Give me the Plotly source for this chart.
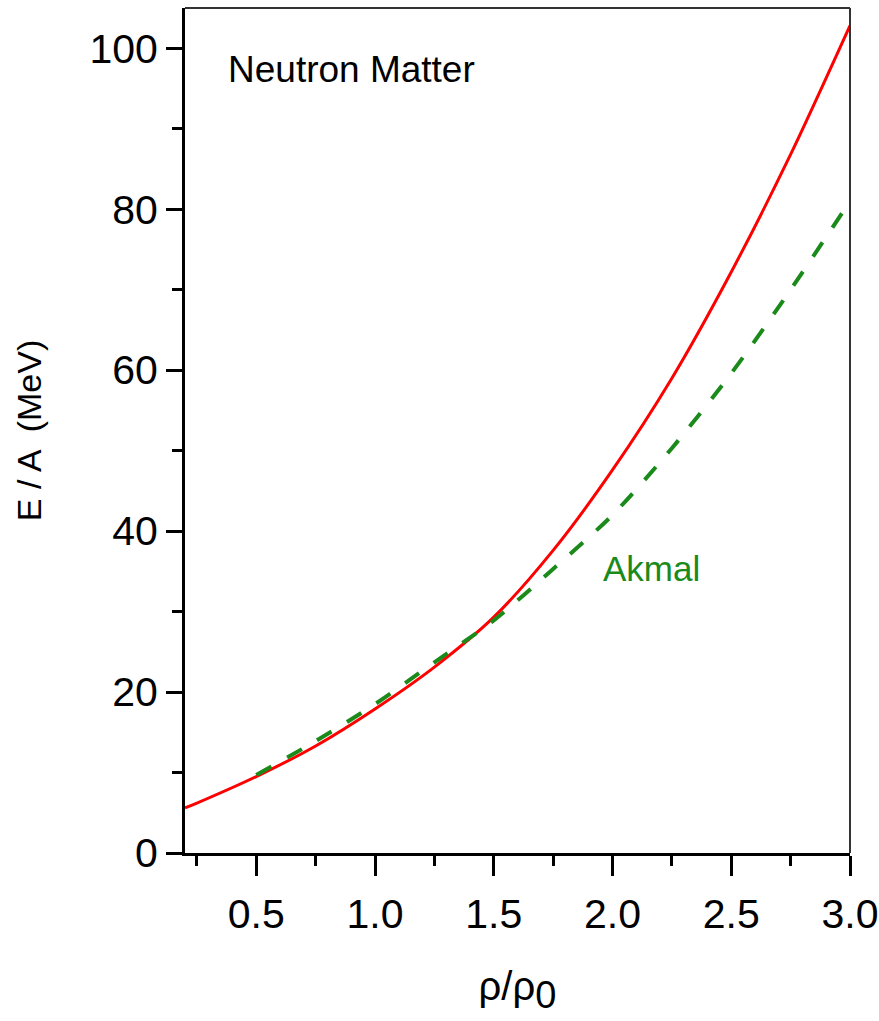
import plotly.graph_objects as go

# Data
rho_red = [0.2, 0.25, 0.5, 0.75, 1.0, 1.25, 1.5, 1.75, 2.0, 2.25, 2.5, 2.75, 3.0]
ea_red = [5.6, 6.2, 9.5, 13.3, 17.9, 23.1, 29.3, 37.6, 47.6, 59.0, 72.2, 86.8, 102.8]

rho_akmal = [0.5, 0.75, 1.0, 1.25, 1.5, 1.75, 2.0, 2.25, 2.5, 2.75, 3.0]
ea_akmal = [9.7, 13.9, 18.5, 23.7, 28.9, 35.3, 42.0, 50.3, 59.6, 70.0, 81.0]

x_ticks = [0.5, 1.0, 1.5, 2.0, 2.5, 3.0]
x_tick_labels = ["0.5", "1.0", "1.5", "2.0", "2.5", "3.0"]
x_minor_ticks = [0.25, 0.75, 1.25, 1.75, 2.25, 2.75]
y_ticks = [0, 20, 40, 60, 80, 100]
y_tick_labels = ["0", "20", "40", "60", "80", "100"]
y_minor_ticks = [10, 30, 50, 70, 90]

sans = "Liberation Sans, Arial, sans-serif"

fig = go.Figure()
fig.add_trace(go.Scatter(x=rho_red, y=ea_red, mode="lines",
                         line=dict(color="#ff0000", width=3, shape="spline", smoothing=0.8),
                         showlegend=False))
fig.add_trace(go.Scatter(x=rho_akmal, y=ea_akmal, mode="lines",
                         line=dict(color="#1a8a1a", width=4, dash="17px,18px",
                                   shape="spline", smoothing=0.8),
                         showlegend=False))

fig.update_layout(
    width=879, height=1021,
    margin=dict(l=185, r=29, t=8, b=168, autoexpand=False),
    paper_bgcolor="white", plot_bgcolor="white",
    xaxis=dict(range=[0.2, 3.0], tickvals=x_ticks, ticktext=x_tick_labels,
               automargin=False,
               showgrid=False, zeroline=False, showline=True, linecolor="black", linewidth=3,
               ticks="outside", ticklen=20, tickwidth=3, tickcolor="black",
               ticklabeloverflow="allow", ticklabelstandoff=3,
               tickfont=dict(family=sans, size=41, color="black"),
               minor=dict(tickvals=x_minor_ticks, ticks="outside",
                          ticklen=10, tickwidth=3, tickcolor="black", showgrid=False),
               title=dict(text="ρ/ρ<sub><span style='font-size:38px'>0</span></sub>",
                          font=dict(family=sans, size=40, color="black"),
                          standoff=36)),
    yaxis=dict(range=[0, 105], tickvals=y_ticks, ticktext=y_tick_labels,
               automargin=False,
               showgrid=False, zeroline=False, showline=True, linecolor="black", linewidth=3,
               ticks="outside", ticklen=16, tickwidth=3, tickcolor="black",
               tickfont=dict(family=sans, size=41, color="black"),
               minor=dict(tickvals=y_minor_ticks, ticks="outside",
                          ticklen=10, tickwidth=3, tickcolor="black", showgrid=False),
               title=dict(text="E / A  (MeV)",
                          font=dict(family=sans, size=34, color="black"),
                          standoff=38)),
    shapes=[
        dict(type="line", xref="paper", yref="paper", x0=0, x1=1, y0=1, y1=1,
             line=dict(color="#333333", width=2)),
        dict(type="line", xref="paper", yref="paper", x0=1, x1=1, y0=0, y1=1,
             line=dict(color="#333333", width=2)),
    ],
    annotations=[
        dict(x=0.903, y=97.4, xref="x", yref="y", text="Neutron Matter", showarrow=False,
             font=dict(family=sans, size=37, color="black")),
        dict(x=2.166, y=35.3, xref="x", yref="y", text="Akmal", showarrow=False,
             font=dict(family=sans, size=35, color="#1a8a1a")),
    ],
)

fig.write_html("out.html", config={"displayModeBar": False},
               post_script="document.body.style.margin='0px';")
